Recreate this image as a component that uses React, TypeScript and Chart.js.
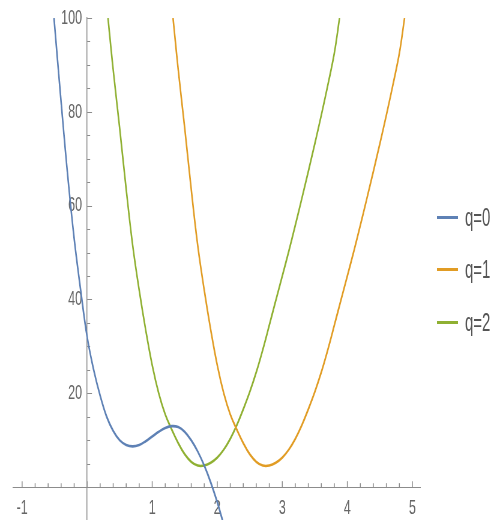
import React, { useEffect, useRef } from "react";
import { Chart, registerables } from "chart.js";

Chart.register(...registerables);

// ---- data ----
const seriesNames = ["q=0", "q=1", "q=2"];

const q0X = [-0.51, -0.4, -0.3, -0.2, -0.1, 0, 0.1, 0.2, 0.3, 0.4, 0.5, 0.6, 0.7, 0.8, 0.9, 1.0, 1.1, 1.2, 1.3, 1.4, 1.5, 1.6, 1.7, 1.8, 1.9, 2.0, 2.1];
const q0Y = [100, 82, 66.5, 53, 42, 32, 25, 19.5, 15, 12, 10, 9, 8.7, 9, 9.8, 10.8, 11.8, 12.6, 13, 12.8, 11.8, 10, 7.6, 4.6, 1.0, -3.2, -8];

const q2X = [0.32, 0.4, 0.5, 0.6, 0.7, 0.8, 0.9, 1.0, 1.1, 1.2, 1.3, 1.4, 1.5, 1.6, 1.7, 1.8, 1.9, 2.0, 2.1, 2.2, 2.3, 2.4, 2.5, 2.6, 2.7, 2.8, 2.9, 3.0, 3.1, 3.2, 3.3, 3.4, 3.5, 3.6, 3.7, 3.8, 3.88];
const q2Y = [100, 89, 76.5, 63.5, 51.5, 42, 33.5, 26, 20, 15.5, 12.3, 9.4, 7, 5.4, 4.6, 4.6, 5.2, 6.3, 8, 10.3, 13.2, 16.6, 20.3, 24.5, 29.3, 34.5, 39.8, 45, 50.3, 55.8, 61.5, 67.3, 73.2, 79.3, 85.7, 92.5, 100];

const q1X = [1.32, 1.4, 1.5, 1.6, 1.7, 1.8, 1.9, 2.0, 2.1, 2.2, 2.3, 2.4, 2.5, 2.6, 2.7, 2.8, 2.9, 3.0, 3.1, 3.2, 3.3, 3.4, 3.5, 3.6, 3.7, 3.8, 3.9, 4.0, 4.1, 4.2, 4.3, 4.4, 4.5, 4.6, 4.7, 4.8, 4.88];
const q1Y = [100, 89, 76.5, 63.5, 51.5, 42, 33.5, 26, 20, 15.5, 12.3, 9.4, 7, 5.4, 4.6, 4.6, 5.2, 6.3, 8, 10.3, 13.2, 16.6, 20.3, 24.5, 29.3, 34.5, 39.8, 45, 50.3, 55.8, 61.5, 67.3, 73.2, 79.3, 85.7, 92.5, 100];

const seriesColors = ["#5E81B5", "#E19C24", "#8FB032"];

const X_MIN = -1.14;
const X_MAX = 5.12;
const Y_MIN = -7;
const Y_MAX = 100;
const X_STEP = 1;
const Y_STEP = 20;

// ---- layout / style ----
const CSS_W = 491;
const CSS_H = 520;
const SQUISH = 0.6; // reference image is horizontally compressed
const LOGICAL_W = Math.round(CSS_W / SQUISH);
const AXIS_COLOR = "#8c8c8c";
const LABEL_COLOR = "#666";
const FONT = '"Liberation Sans", Arial, sans-serif';

const toPoints = (xs: number[], ys: number[]) => xs.map((x, i) => ({ x, y: ys[i] }));

const isInt = (v: number) => Math.abs(v - Math.round(v)) < 1e-6;

const noLabelPadding = (scale: any) => {
  scale.paddingTop = 0;
  scale.paddingBottom = 0;
  scale.paddingLeft = 0;
  scale.paddingRight = 0;
};

const axisTicksPlugin = {
  id: "axisTicks",
  beforeDatasetsDraw(chart: any) {
    const { ctx, scales } = chart;
    const xs = scales.x;
    const ys = scales.y;
    const px0 = xs.getPixelForValue(0);
    const py0 = ys.getPixelForValue(0);
    ctx.save();
    ctx.strokeStyle = AXIS_COLOR;
    ctx.lineWidth = 1.5;
    for (let i = Math.ceil(X_MIN * 5); i <= Math.floor(X_MAX * 5); i++) {
      const v = i / 5;
      const major = i % 5 === 0;
      const px = xs.getPixelForValue(v);
      ctx.beginPath();
      ctx.moveTo(px, py0);
      ctx.lineTo(px, py0 - (major ? 6 : 4));
      ctx.stroke();
    }
    ctx.lineWidth = 1;
    for (let j = 1; j * 5 <= Y_MAX; j++) {
      const v = j * 5;
      const major = j % 4 === 0;
      const py = Math.round(ys.getPixelForValue(v)) + 0.5;
      ctx.beginPath();
      ctx.moveTo(px0, py);
      ctx.lineTo(px0 + (major ? 8 : 5), py);
      ctx.stroke();
    }
    ctx.restore();
  },
};

export default function App() {
  const canvasRef = useRef<HTMLCanvasElement | null>(null);

  useEffect(() => {
    const canvas = canvasRef.current;
    if (!canvas) return;
    const seriesX = [q0X, q1X, q2X];
    const seriesY = [q0Y, q1Y, q2Y];
    const chart = new Chart(canvas, {
      type: "line",
      data: {
        datasets: seriesNames.map((name, i) => ({
          label: name,
          data: toPoints(seriesX[i], seriesY[i]),
          borderColor: seriesColors[i],
          backgroundColor: seriesColors[i],
          borderWidth: 2.6,
          pointRadius: 0,
          fill: false,
          tension: 0.4,
        })),
      },
      options: {
        responsive: false,
        animation: false,
        devicePixelRatio: 1,
        layout: { padding: { left: 13 / SQUISH, right: LOGICAL_W - 420 / SQUISH, top: 18, bottom: 0 } },
        plugins: { legend: { display: false }, tooltip: { enabled: false } },
        scales: {
          x: {
            type: "linear",
            min: X_MIN,
            max: X_MAX,
            position: { y: 0 } as any,
            afterFit: noLabelPadding,
            grid: { display: false, drawTicks: false },
            border: { display: true, color: AXIS_COLOR, width: 1 },
            ticks: {
              stepSize: X_STEP,
              includeBounds: false,
              autoSkip: false,
              maxRotation: 0,
              padding: 8,
              color: LABEL_COLOR,
              font: { family: FONT, size: 21 },
              callback: (v: any) => {
                const n = Number(v);
                return isInt(n) && Math.round(n) !== 0 ? String(Math.round(n)) : null;
              },
            },
          },
          y: {
            type: "linear",
            min: Y_MIN,
            max: Y_MAX,
            position: { x: 0 } as any,
            afterFit: noLabelPadding,
            grid: { display: false, drawTicks: false },
            border: { display: true, color: AXIS_COLOR, width: 1.5 },
            ticks: {
              stepSize: Y_STEP,
              includeBounds: false,
              autoSkip: false,
              padding: 0,
              color: LABEL_COLOR,
              font: { family: FONT, size: 21 },
              callback: (v: any) => {
                const n = Number(v);
                return n > 0 && isInt(n / Y_STEP) ? String(Math.round(n)) + "\u2009\u2009" : null;
              },
            },
          },
        },
      },
      plugins: [axisTicksPlugin],
    });
    return () => chart.destroy();
  }, []);

  const legendRows = [217, 269, 322];

  return (
    <div
      style={{
        position: "absolute",
        left: 0,
        top: 0,
        width: CSS_W,
        height: CSS_H,
        overflow: "hidden",
        background: "#fff",
      }}
    >
      <canvas
        ref={canvasRef}
        width={LOGICAL_W}
        height={CSS_H}
        style={{ width: CSS_W + "px", height: CSS_H + "px", display: "block" }}
      />
      {seriesNames.map((name, i) => (
        <React.Fragment key={name}>
          <div
            style={{
              position: "absolute",
              left: 437,
              top: legendRows[i] - 1.5,
              width: 21,
              height: 3,
              background: seriesColors[i],
            }}
          />
          <div
            style={{
              position: "absolute",
              left: 465,
              top: legendRows[i] - 12,
              fontFamily: FONT,
              fontSize: 25,
              lineHeight: "25px",
              color: "#555",
              whiteSpace: "nowrap",
              transform: `scaleX(${SQUISH})`,
              transformOrigin: "left center",
            }}
          >
            {name}
          </div>
        </React.Fragment>
      ))}
    </div>
  );
}
